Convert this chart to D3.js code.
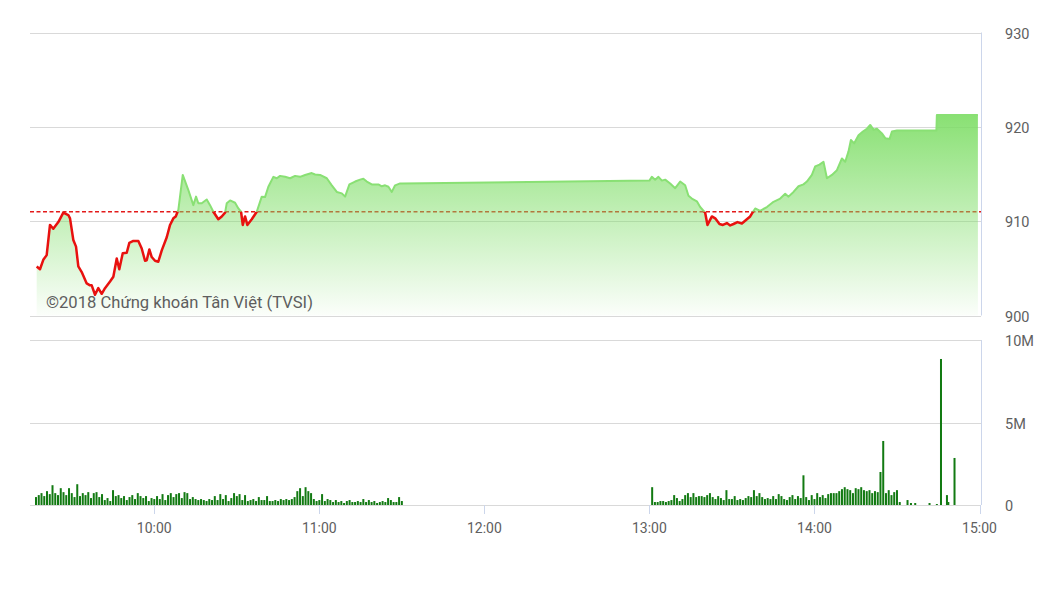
<!DOCTYPE html>
<html><head><meta charset="utf-8">
<script src="https://cdn.jsdelivr.net/npm/d3@7"></script>
<style>
body{margin:0;background:#fff;}
svg{display:block;font-family:Roboto,"Noto Sans",sans-serif;}
</style>
</head><body>
<svg id="c" width="1058" height="594"></svg>
<script>
// ---------------- DATA ----------------
const priceTimes = ["09:17:15","09:18:27","09:19:39","09:20:53","09:22:05","09:23:17","09:25:07","09:26:56","09:28:45","09:29:22",
"09:30:34","09:31:33","09:32:23","09:33:37","09:35:26","09:36:38","09:37:15","09:38:27","09:39:39","09:40:53",
"09:42:05","09:43:55","09:45:07","09:46:21","09:47:17","09:48:32","09:49:59","09:50:56","09:52:23","09:54:12",
"09:55:26","09:56:38","09:57:15","09:58:12","09:59:04","10:00:16","10:01:28","10:02:43","10:04:32","10:05:44",
"10:06:56","10:07:48","10:08:45","10:10:21","10:12:23","10:14:12","10:15:11","10:16:01","10:17:15","10:19:04",
"10:20:16","10:21:28","10:23:17","10:24:32","10:25:44","10:26:21","10:27:33","10:29:22","10:30:34","10:31:33",
"10:32:10","10:33:00","10:33:50","10:35:26","10:37:15","10:39:04","10:40:16","10:41:28","10:43:17","10:44:32",
"10:45:44","10:47:33","10:49:22","10:51:11","10:53:00","10:54:49","10:57:15","10:58:27","11:00:16","11:02:43",
"11:04:32","11:06:21","11:08:10","11:09:22","11:10:56","11:13:00","11:14:49","11:16:01","11:17:15","11:19:04",
"11:21:28","11:22:43","11:23:55","11:25:07","11:26:21","11:27:33","11:29:22","11:30:00",
"13:00:00","13:00:53","13:02:05","13:03:17","13:04:32","13:05:44","13:07:33","13:09:22","13:11:11","13:13:00",
"13:14:12","13:15:26","13:17:15","13:18:27","13:20:16","13:21:07","13:22:43","13:23:55","13:25:28","13:26:43",
"13:28:10","13:29:22","13:30:34","13:32:01","13:33:37","13:35:26","13:36:38","13:37:15","13:38:27","13:40:16",
"13:42:43","13:45:07","13:47:33","13:49:22","13:50:34","13:52:23","13:54:12","13:56:01","13:57:15","13:59:04",
"14:00:16","14:01:50","14:03:17","14:04:32","14:06:21","14:08:10","14:09:59","14:11:11","14:12:23","14:13:15",
"14:14:27","14:16:01","14:17:37","14:19:04","14:20:16","14:21:28","14:22:43","14:24:32","14:25:44","14:27:17",
"14:28:10","14:29:59","14:44:20","14:44:30","14:59:25"];
const priceValues = [905.2,904.9,905.9,906.4,909.6,909.2,909.9,910.9,910.65,910.3,
908.0,907.3,905.2,904.6,903.4,903.2,903.2,902.2,902.9,902.3,
902.9,903.6,904.1,906.05,904.9,906.6,906.65,907.7,907.9,907.9,
907.1,905.8,905.85,907.0,906.2,905.8,905.7,906.9,908.3,909.6,
910.3,910.5,911.2,914.9,913.3,911.7,912.6,911.9,911.9,912.3,
911.7,911.0,910.2,910.5,910.9,911.9,912.2,911.95,911.35,911.0,
909.6,910.5,909.6,910.2,911.0,912.6,912.55,913.65,914.7,914.55,
914.8,914.7,914.55,914.8,914.7,914.9,915.1,914.95,914.9,914.55,
913.8,913.1,912.95,912.6,913.9,914.2,914.4,914.5,914.2,913.9,
913.9,913.7,913.8,913.65,913.1,913.8,914.0,914.0,
914.3,914.7,914.4,914.7,914.3,914.4,914.0,913.5,914.2,913.8,
912.7,912.4,912.1,911.5,910.9,909.6,910.5,910.3,909.7,909.6,
909.8,909.55,909.7,909.9,909.75,910.2,910.5,910.8,911.35,911.1,
911.5,912.05,912.4,912.9,912.6,913.1,913.7,913.9,914.2,914.9,
915.8,916.0,916.3,914.55,914.9,915.4,916.65,916.3,917.4,918.6,
918.25,919.1,919.5,919.8,920.2,919.7,919.8,919.3,918.8,918.7,
919.5,919.6,919.6,921.25,921.25];
const referencePrice = 911.0;

// volume per minute (millions of shares)
const amVolStart = "09:17";
const amVolumes = [0.48,0.6,0.72,0.54,0.84,0.66,1.2,0.72,0.6,1.02,
0.78,0.6,1.02,0.72,0.48,1.26,0.54,0.72,0.6,0.78,
0.42,0.72,0.78,0.48,0.66,0.3,0.42,0.24,0.9,0.54,
0.6,0.42,0.54,0.3,0.48,0.6,0.36,0.72,0.54,0.42,
0.54,0.24,0.42,0.36,0.54,0.36,0.66,0.3,0.6,0.72,
0.48,0.66,0.72,0.42,0.78,0.72,0.36,0.48,0.36,0.3,
0.36,0.3,0.24,0.36,0.3,0.54,0.3,0.66,0.36,0.6,
0.24,0.42,0.72,0.54,0.66,0.3,0.6,0.24,0.3,0.36,
0.24,0.48,0.3,0.3,0.54,0.24,0.24,0.3,0.24,0.36,
0.3,0.36,0.3,0.36,0.48,0.84,1.02,0.54,1.08,0.84,
0.72,0.36,0.24,0.3,0.66,0.24,0.36,0.3,0.18,0.3,
0.18,0.24,0.12,0.24,0.3,0.18,0.18,0.24,0.18,0.36,
0.18,0.3,0.18,0.24,0.12,0.18,0.24,0.18,0.42,0.3,
0.18,0.18,0.48,0.24];
const pmVolStart = "13:00";
const pmVolumes = [0,1.08,0.18,0.18,0.24,0.24,0.18,0.24,0.3,0.6,
0.42,0.24,0.36,0.6,0.72,0.48,0.72,0.48,0.54,0.54,
0.48,0.6,0.72,0.48,0.36,0.54,0.42,0.3,0.9,0.36,
0.36,0.54,0.3,0.36,0.3,0.42,0.54,0.48,0.9,0.54,
0.72,0.48,0.36,0.42,0.36,0.54,0.36,0.66,0.54,0.36,
0.3,0.48,0.6,0.36,0.54,0.42,1.8,0.48,0.3,0.6,
0.36,0.72,0.48,0.6,0.42,0.66,0.72,0.72,0.72,0.84,
0.96,1.08,0.96,0.9,0.72,1.02,0.96,1.08,0.9,0.84,
0.9,0.72,0.84,0.78,2.0,3.88,0.72,0.9,0.6,0.78,
0.9,0.18];
const lateVolTimes = ["14:33:50","14:35:05","14:36:38","14:41:50","14:44:30","14:46:00","14:48:10","14:48:40","14:50:55"];
const lateVolumes = [0.3,0.12,0.12,0.12,0.06,8.85,0.6,0.18,2.85];

const priceTicks = [900,910,920,930];
const volTicks = [0,5,10];
const volTickLabels = ["0","5M","10M"];
const timeTicks = ["10:00","11:00","12:00","13:00","14:00","15:00"];
const watermark = "©2018 Chứng khoán Tân Việt (TVSI)";

// ---------------- CHART ----------------
const parseT = s => (s.length > 5 ? d3.timeParse("%H:%M:%S") : d3.timeParse("%H:%M"))(s);
const svg = d3.select("#c");

const x = d3.scaleTime().domain([parseT("09:15"), parseT("15:00")]).range([30.5, 979.5]);
const yP = d3.scaleLinear().domain([900, 930]).range([315.5, 32.5]);
const yV = d3.scaleLinear().domain([0, 10]).range([505, 340]);
const plotL = 30, plotR = 981;

const price = priceTimes.map((t, i) => ({t: parseT(t), v: priceValues[i]}));
const vols = [];
amVolumes.forEach((v, i) => vols.push({t: d3.timeMinute.offset(parseT(amVolStart), i), v}));
pmVolumes.forEach((v, i) => vols.push({t: d3.timeMinute.offset(parseT(pmVolStart), i), v}));
lateVolTimes.forEach((t, i) => vols.push({t: parseT(t), v: lateVolumes[i]}));

const defs = svg.append("defs");
const maxV = d3.max(priceValues);
const grad = defs.append("linearGradient").attr("id", "fillG")
  .attr("gradientUnits", "userSpaceOnUse").attr("x1", 0).attr("x2", 0)
  .attr("y1", yP(maxV)).attr("y2", yP(900));
grad.append("stop").attr("offset", 0).attr("stop-color", "rgb(124,221,100)").attr("stop-opacity", 0.9);
grad.append("stop").attr("offset", 1).attr("stop-color", "rgb(124,221,100)").attr("stop-opacity", 0.03);

const yRef = yP(referencePrice);
defs.append("clipPath").attr("id", "above").append("rect")
  .attr("x", 0).attr("y", 0).attr("width", 1058).attr("height", yRef);
defs.append("clipPath").attr("id", "below").append("rect")
  .attr("x", 0).attr("y", yRef).attr("width", 1058).attr("height", 400);

// grid lines - price
const gridColor = "#d9d9d9";
svg.append("g").selectAll("line").data(priceTicks).join("line")
  .attr("x1", plotL).attr("x2", plotR)
  .attr("y1", d => Math.round(yP(d)) + 0.5).attr("y2", d => Math.round(yP(d)) + 0.5)
  .attr("stroke", gridColor).attr("stroke-width", 1);
// grid lines - volume
svg.append("g").selectAll("line").data(volTicks).join("line")
  .attr("x1", plotL).attr("x2", plotR)
  .attr("y1", d => Math.round(yV(d)) + 0.5).attr("y2", d => Math.round(yV(d)) + 0.5)
  .attr("stroke", gridColor).attr("stroke-width", 1);
// right borders
const borderColor = "#ccd6eb";
svg.append("line").attr("x1", plotR + 0.5).attr("x2", plotR + 0.5).attr("y1", yP(930)).attr("y2", yP(900))
  .attr("stroke", borderColor);
svg.append("line").attr("x1", plotR + 0.5).attr("x2", plotR + 0.5).attr("y1", yV(10)).attr("y2", yV(0))
  .attr("stroke", borderColor);

// reference dashed line
svg.append("line").attr("x1", plotL).attr("x2", plotR).attr("y1", yRef).attr("y2", yRef)
  .attr("stroke", "#e31a1a").attr("stroke-width", 1.5).attr("stroke-dasharray", "4,2.5");

// area
const area = d3.area().x(d => x(d.t)).y0(yP(900)).y1(d => yP(d.v));
svg.append("path").datum(price).attr("d", area).attr("fill", "url(#fillG)");

// lines
const line = d3.line().x(d => x(d.t)).y(d => yP(d.v));
svg.append("path").datum(price).attr("d", line).attr("fill", "none")
  .attr("stroke", "rgb(137,224,116)").attr("stroke-width", 2).attr("stroke-linejoin", "round")
  .attr("clip-path", "url(#above)");
svg.append("path").datum(price).attr("d", line).attr("fill", "none")
  .attr("stroke", "#e8110f").attr("stroke-width", 2.5).attr("stroke-linejoin", "round")
  .attr("clip-path", "url(#below)");

// volume bars
svg.append("g").selectAll("rect").data(vols.filter(d => d.v > 0)).join("rect")
  .attr("x", d => x(d.t) - 1).attr("width", 2)
  .attr("y", d => yV(d.v)).attr("height", d => yV(0) - yV(d.v))
  .attr("fill", "#127a12");

// x axis ticks + labels
const xg = svg.append("g");
xg.selectAll("line").data(timeTicks).join("line")
  .attr("x1", d => Math.round(x(parseT(d))) + 0.5).attr("x2", d => Math.round(x(parseT(d))) + 0.5)
  .attr("y1", 505).attr("y2", 514).attr("stroke", borderColor);
xg.selectAll("text").data(timeTicks).join("text")
  .attr("x", d => x(parseT(d))).attr("y", 528).attr("dy", "0.35em")
  .attr("text-anchor", "middle").attr("font-size", 14).attr("fill", "#606060").text(d => d);

// y labels
svg.append("g").selectAll("text").data(priceTicks).join("text")
  .attr("x", 1005).attr("y", d => yP(d) + 1).attr("dy", "0.35em")
  .attr("font-size", 14.5).attr("fill", "#606060").text(d => d);
svg.append("g").selectAll("text").data(volTicks).join("text")
  .attr("x", 1005).attr("y", d => yV(d) + 1).attr("dy", "0.35em")
  .attr("font-size", 14.5).attr("fill", "#606060").text((d, i) => volTickLabels[i]);

// watermark
svg.append("text").attr("x", 46).attr("y", 308).attr("font-size", 16.6)
  .attr("fill", "#5e5e5e").text(watermark);
</script>
</body></html>
